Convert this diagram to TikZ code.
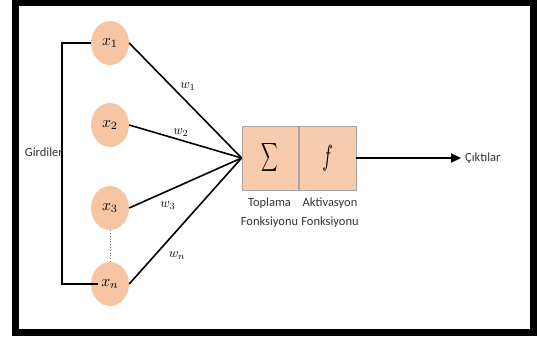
\documentclass[tikz,border=0pt]{standalone}
\usepackage{graphicx}
\usepackage{fontspec}
\setmainfont{Carlito}
\usetikzlibrary{arrows.meta,shapes.geometric}
\definecolor{nodepeach}{HTML}{F6C6A4}
\definecolor{boxpeach}{HTML}{F8CBAD}
\definecolor{boxedge}{HTML}{A5A5A5}
\definecolor{captext}{HTML}{333333}

\newcommand{\bigmath}[3]{\scalebox{#1}[#2]{$#3$}}

\begin{document}
\begin{tikzpicture}[x=1pt,y=-1pt,
  inp/.style={ellipse, fill=nodepeach, minimum width=38pt, minimum height=44pt,
    inner sep=0pt},
  fbox/.style={draw=boxedge, line width=0.8pt, fill=boxpeach, minimum width=56pt,
    minimum height=64pt, inner sep=0pt},
  wire/.style={line width=1.6pt, black},
  wlabel/.style={inner sep=0pt},
  caption/.style={align=center, inner sep=0pt, text=captext, font=\fontsize{12.5}{19}\selectfont}]
\useasboundingbox (0,0) rectangle (537,342);

% outer frame
\draw[line width=7pt] (15.5,3) rectangle (533.5,332.5);

% input nodes
\node[inp] (x1) at (110,43) {\bigmath{1.55}{1.6}{x_1}};
\node[inp] (x2) at (110,125) {\bigmath{1.55}{1.6}{x_2}};
\node[inp] (x3) at (110,208) {\bigmath{1.55}{1.6}{x_3}};
\node[inp] (xn) at (110,284) {\bigmath{1.55}{1.6}{x_n}};
\draw[gray, dotted, line width=0.8pt] (x3.south) -- (xn.north);

% summation and activation blocks
\node[fbox] (sum) at (270,158) {\bigmath{1.15}{2.0}{\displaystyle\sum}};
\node[fbox, minimum width=57pt] (act) at (327.5,158) {\bigmath{1.75}{2.9}{f}};

\node[caption] (sumlbl) at (269.5,213) {Toplama\\Fonksiyonu};
\node[caption] (actlbl) at (330,213) {Aktivasyon\\Fonksiyonu};

% weighted connections
\coordinate (join) at (sum.west);
\draw[wire] (x1.east) -- (join);
\draw[wire] (x2.east) -- (join);
\draw[wire] (x3.east) -- (join);
\draw[wire] (xn.east) -- (join);
\node[wlabel] (w1) at (188,87) {\bigmath{1.3}{1.35}{w_1}};
\node[wlabel] (w2) at (181,133) {\bigmath{1.3}{1.35}{w_2}};
\node[wlabel] (w3) at (168,206) {\bigmath{1.3}{1.35}{w_3}};
\node[wlabel] (wn) at (177,256) {\bigmath{1.3}{1.35}{w_n}};

% input bracket
\coordinate (bk) at (62,160);
\draw[wire] (x1.west) -| (bk) |- ([xshift=7pt]xn.west);
\node[anchor=east, inner sep=0pt, text=captext, font=\fontsize{12.5}{15}\selectfont] (gir) at (63,152) {Girdiler};

% output
\node[anchor=west, inner sep=0pt, text=captext, font=\fontsize{12.5}{15}\selectfont] (out) at (465,158) {Çıktılar};
\draw[line width=2.2pt, -{Triangle[length=10pt,width=9pt]}] (act.east) -- ([xshift=-4pt]out.west);
\end{tikzpicture}
\end{document}
